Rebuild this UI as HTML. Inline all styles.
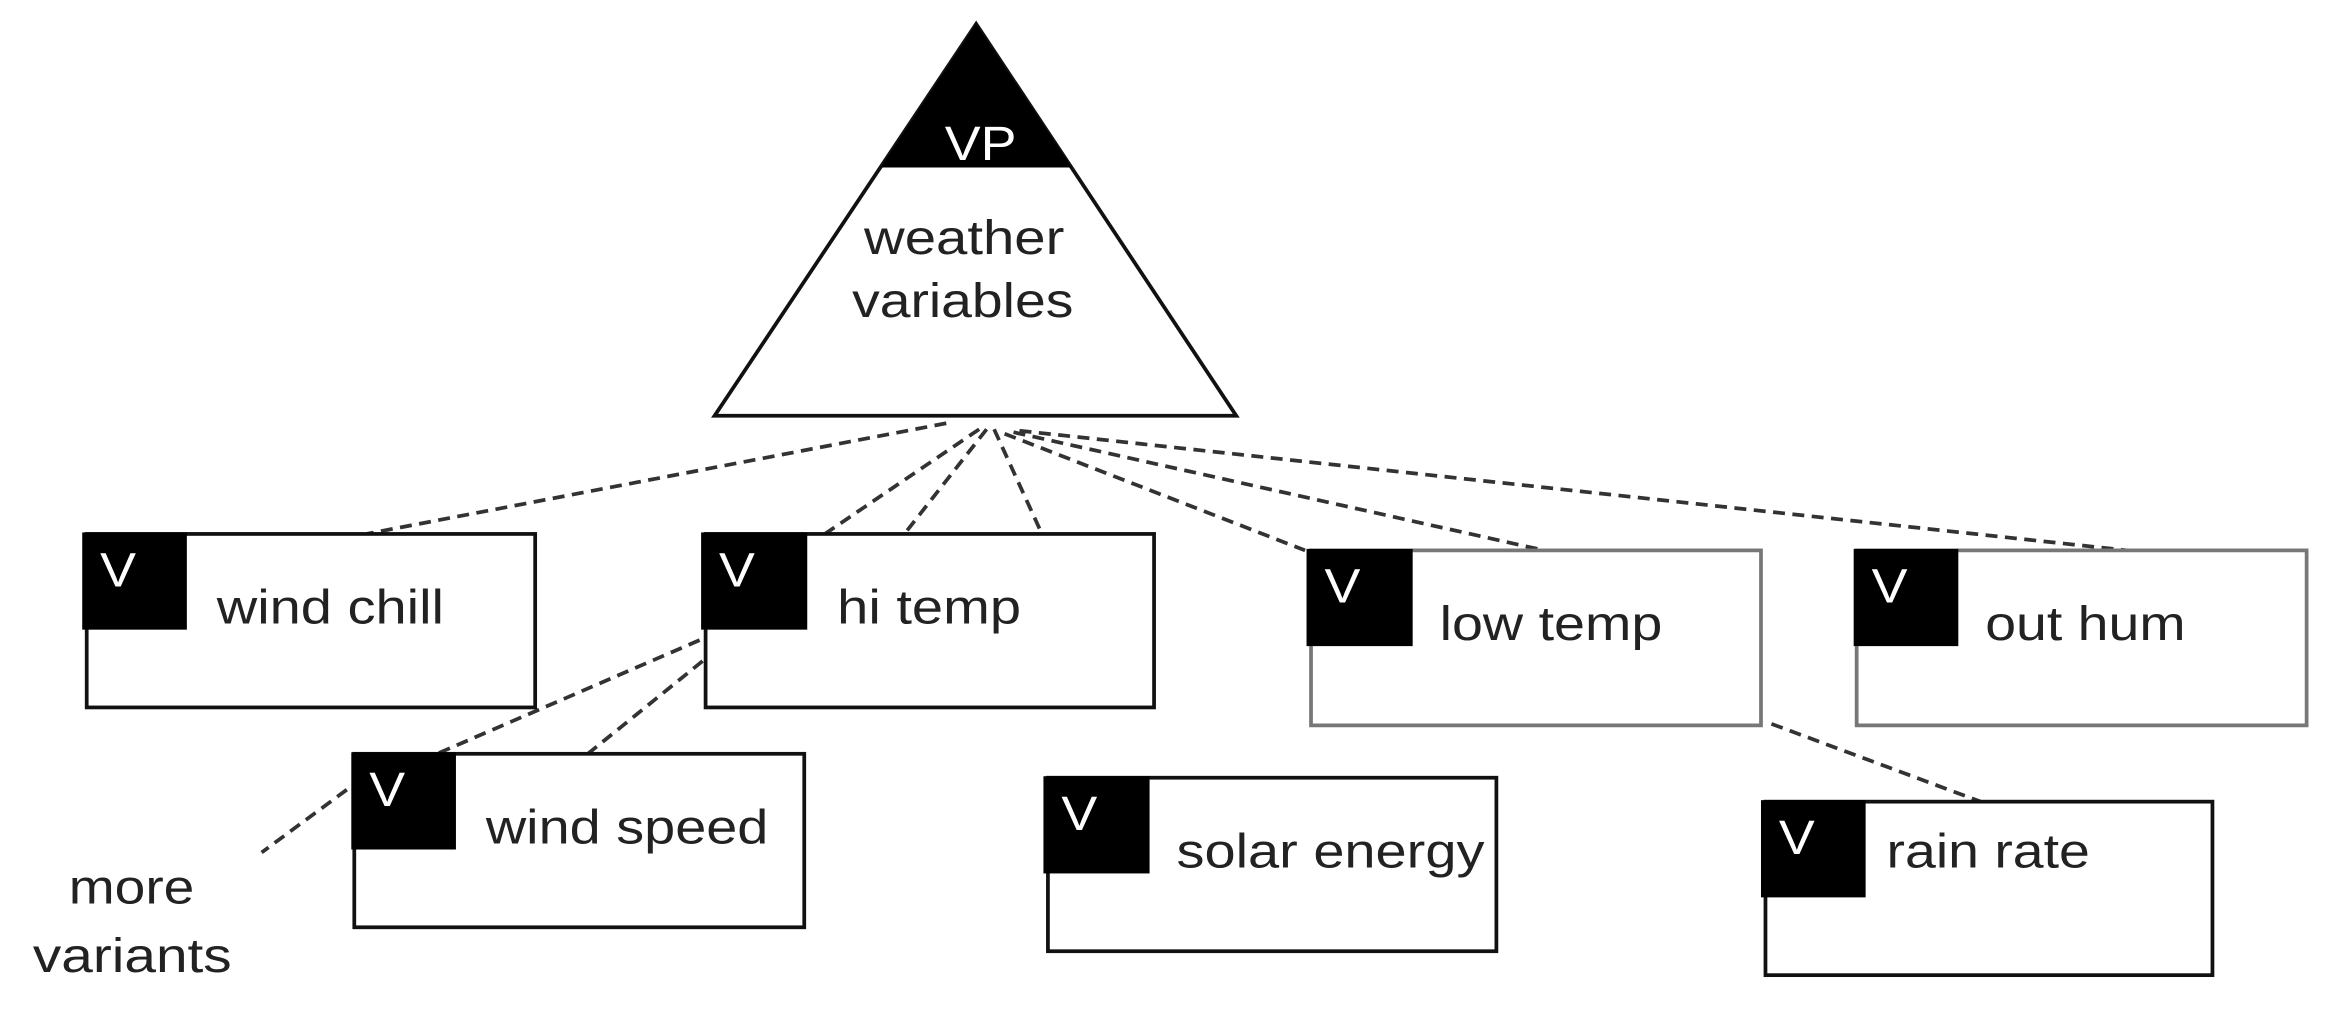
<!DOCTYPE html>
<html><head><meta charset="utf-8"><style>
html,body{margin:0;padding:0;background:#fff;}
svg{display:block;}
text{font-family:"Liberation Sans",sans-serif;fill:#222;}
</style></head><body>
<svg width="2344" height="1026" viewBox="0 0 1568 686" preserveAspectRatio="none" xmlns="http://www.w3.org/2000/svg">
<rect width="1568" height="686" fill="#fff"/>
<polygon points="653,16 827,278 478,278" fill="#fff" stroke="#111" stroke-width="2.5"/>
<polygon points="653,16 717,112 589,112" fill="#000"/>
<text x="632" y="107" font-size="32" textLength="48" lengthAdjust="spacingAndGlyphs" style="fill:#fff">VP</text>
<text x="578" y="170" font-size="32" textLength="134" lengthAdjust="spacingAndGlyphs">weather</text>
<text x="570" y="212" font-size="32" textLength="148" lengthAdjust="spacingAndGlyphs">variables</text>
<g stroke="#333" stroke-width="2.5" stroke-dasharray="8,5" fill="none">
<line x1="633" y1="283" x2="245" y2="357"/>
<line x1="655" y1="287" x2="540" y2="365"/>
<line x1="660" y1="287" x2="605" y2="357"/>
<line x1="665" y1="287" x2="697" y2="357"/>
<line x1="672" y1="290" x2="873" y2="368"/>
<line x1="678" y1="289" x2="1033" y2="368"/>
<line x1="682" y1="288" x2="1460" y2="372"/>
<line x1="468" y1="428" x2="290" y2="505"/>
<line x1="232" y1="528" x2="175" y2="570"/>
<line x1="470" y1="442" x2="392" y2="505"/>
<line x1="1185" y1="484" x2="1325" y2="536"/>
</g>
<g fill="#fff" stroke-width="2.5">
<rect x="58" y="357" width="300" height="116" stroke="#111"/>
<rect x="472" y="357" width="300" height="116" stroke="#111"/>
<rect x="877" y="368" width="301" height="117" stroke="#777"/>
<rect x="1242" y="368" width="301" height="117" stroke="#777"/>
<rect x="237" y="504" width="301" height="116" stroke="#111"/>
<rect x="701" y="520" width="300" height="116" stroke="#111"/>
<rect x="1181" y="536" width="299" height="116" stroke="#111"/>
</g>
<g fill="#000">
<rect x="55" y="356" width="70" height="65"/>
<rect x="469" y="356" width="71" height="65"/>
<rect x="874" y="367" width="71" height="65"/>
<rect x="1240" y="367" width="70" height="65"/>
<rect x="235" y="503" width="70" height="65"/>
<rect x="698" y="519" width="71" height="65"/>
<rect x="1178" y="535" width="70" height="65"/>
</g>
<g font-size="32">
<text x="67" y="392" textLength="24" lengthAdjust="spacingAndGlyphs" style="fill:#fff">V</text>
<text x="481" y="392" textLength="24" lengthAdjust="spacingAndGlyphs" style="fill:#fff">V</text>
<text x="886" y="403" textLength="24" lengthAdjust="spacingAndGlyphs" style="fill:#fff">V</text>
<text x="1252" y="403" textLength="24" lengthAdjust="spacingAndGlyphs" style="fill:#fff">V</text>
<text x="247" y="539" textLength="24" lengthAdjust="spacingAndGlyphs" style="fill:#fff">V</text>
<text x="710" y="555" textLength="24" lengthAdjust="spacingAndGlyphs" style="fill:#fff">V</text>
<text x="1190" y="571" textLength="24" lengthAdjust="spacingAndGlyphs" style="fill:#fff">V</text>
</g>
<g font-size="32">
<text x="145" y="417" textLength="152" lengthAdjust="spacingAndGlyphs">wind chill</text>
<text x="560" y="417" textLength="123" lengthAdjust="spacingAndGlyphs">hi temp</text>
<text x="963" y="428" textLength="149" lengthAdjust="spacingAndGlyphs">low temp</text>
<text x="1328" y="428" textLength="134" lengthAdjust="spacingAndGlyphs">out hum</text>
<text x="325" y="564" textLength="189" lengthAdjust="spacingAndGlyphs">wind speed</text>
<text x="787" y="580" textLength="206" lengthAdjust="spacingAndGlyphs">solar energy</text>
<text x="1262" y="580" textLength="136" lengthAdjust="spacingAndGlyphs">rain rate</text>
<text x="46" y="604" textLength="84" lengthAdjust="spacingAndGlyphs">more</text>
<text x="22" y="650" textLength="133" lengthAdjust="spacingAndGlyphs">variants</text>
</g>
</svg>
</body></html>
